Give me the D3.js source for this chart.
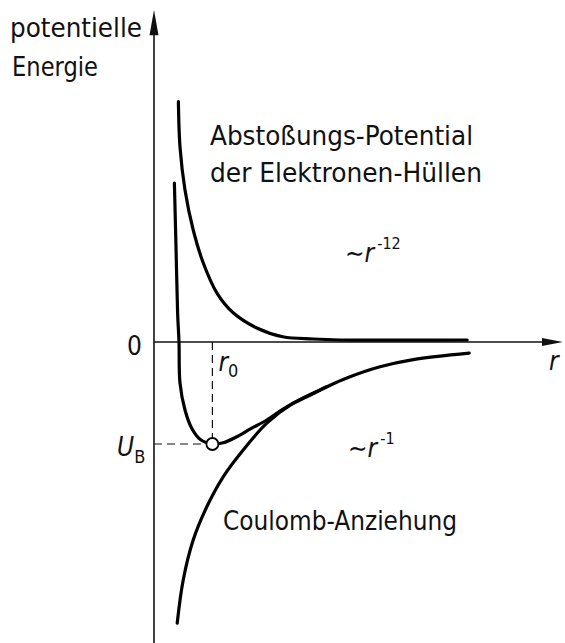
<html>
<head>
<style>
body { margin: 0; background: #fff; }
text { font-family: "Liberation Sans Narrow", "DejaVu Sans Condensed", sans-serif; fill: #111; }
.axis { stroke: #111; stroke-width: 1.6px; fill: none; }
.curve { stroke: #000; stroke-width: 3.2px; fill: none; stroke-linecap: round; }
.guide { stroke: #111; stroke-width: 1.2px; stroke-dasharray: 8 5; fill: none; }
</style>
</head>
<body>
<svg width="565" height="643"></svg>
<script src="https://d3js.org/d3.v7.min.js"></script>
<script>
// distance r (arbitrary units) and potential energy U
const repulsionR = [0.61, 0.65, 0.775, 0.98, 1.23, 1.57, 1.98, 2.57, 3.22, 3.98, 4.65, 6.15, 7.83]
const repulsionU = [6.01, 4.88, 3.8, 2.8, 1.98, 1.23, 0.73, 0.35, 0.13, 0.075, 0.05, 0.045, 0.05]

const coulombR = [0.58, 0.73, 0.98, 1.32, 1.73, 2.23, 2.82, 3.48, 4.32, 4.82, 5.65, 6.48, 7.88]
const coulombU = [-7.03, -5.95, -4.95, -4.12, -3.37, -2.7, -2.03, -1.53, -1.12, -0.9, -0.62, -0.44, -0.28]

const totalR = [0.51, 0.55, 0.59, 0.625, 0.65, 0.775, 0.94, 1.15, 1.46, 1.73, 2.07, 2.4, 2.82, 3.32, 3.82, 4.32]
const totalU = [3.97, 2.38, 0.73, 0, -1.03, -1.7, -2.15, -2.43, -2.55, -2.52, -2.37, -2.18, -1.95, -1.62, -1.37, -1.12]

const r0 = 1.46
const UB = -2.55

const svg = d3.select('svg')
const x = d3.scaleLinear().domain([0, 10.25]).range([154, 564])
const y = d3.scaleLinear().domain([-7.5, 8]).range([642, 22])

const line = d3.line()
    .x(d => x(d[0]))
    .y(d => y(d[1]))
    .curve(d3.curveCatmullRom.alpha(0.5))

// axes with arrow heads
svg.append('line').attr('class', 'axis')
    .attr('x1', x(0)).attr('y1', 643).attr('x2', x(0)).attr('y2', y(7.7))
svg.append('path').attr('fill', '#111')
    .attr('d', `M${x(0)},${y(8.3)} L${x(0) - 4.5},${y(7.67)} L${x(0) + 4.5},${y(7.67)} Z`)
svg.append('line').attr('class', 'axis')
    .attr('x1', x(0)).attr('y1', y(0)).attr('x2', x(9.75)).attr('y2', y(0))
svg.append('path').attr('fill', '#111')
    .attr('d', `M${x(10.22)},${y(0)} L${x(9.7)},${y(0) - 4} L${x(9.7)},${y(0) + 4} Z`)

// dashed guides to the minimum
svg.append('line').attr('class', 'guide')
    .attr('x1', x(r0)).attr('y1', y(0)).attr('x2', x(r0)).attr('y2', y(UB))
svg.append('line').attr('class', 'guide')
    .attr('x1', x(0)).attr('y1', y(UB)).attr('x2', x(r0)).attr('y2', y(UB))

const series = [
    d3.zip(repulsionR, repulsionU),
    d3.zip(coulombR, coulombU),
    d3.zip(totalR, totalU)
]
svg.append('g').selectAll('path')
    .data(series)
    .enter().append('path')
    .attr('class', 'curve')
    .attr('d', line)

svg.append('circle')
    .attr('cx', x(r0)).attr('cy', y(UB)).attr('r', 6)
    .attr('fill', '#fff').attr('stroke', '#000').attr('stroke-width', 1.8)

// labels
function label(txt, px, py, size, len) {
    const t = svg.append('text').attr('x', px).attr('y', py)
        .attr('font-size', size).text(txt)
    if (len) t.attr('textLength', len).attr('lengthAdjust', 'spacingAndGlyphs')
    return t
}
label('potentielle', 10, 37, 27, 132)
label('Energie', 12, 76, 27, 86)
label('Abstoßungs-Potential', 210, 145, 26, 263)
label('der Elektronen-Hüllen', 210, 182, 26, 272)
label('Coulomb-Anziehung', 223, 530, 27, 234)

label('0', x(0) - 12, y(0) + 13, 26).attr('text-anchor', 'end')

const ub = svg.append('text').attr('x', x(0) - 37).attr('y', y(UB) + 12).attr('font-size', 26)
ub.append('tspan').attr('font-style', 'italic').text('U')
ub.append('tspan').attr('font-size', 18).attr('dy', 7).text('B')

const rl = svg.append('text').attr('x', x(r0) + 6).attr('y', y(0) + 29).attr('font-size', 26)
rl.append('tspan').attr('font-style', 'italic').text('r')
rl.append('tspan').attr('font-size', 18).attr('dy', 6).text('0')

label('r', 549, y(0) + 28, 26).attr('font-style', 'italic')

const p12 = svg.append('text').attr('x', 345).attr('y', 262).attr('font-size', 26)
p12.append('tspan').text('∼')
p12.append('tspan').attr('font-style', 'italic').text('r')
p12.append('tspan').attr('font-size', 16).attr('dx', 3).attr('dy', -13).text('-12')

const p1 = svg.append('text').attr('x', 348).attr('y', 457).attr('font-size', 26)
p1.append('tspan').text('∼')
p1.append('tspan').attr('font-style', 'italic').text('r')
p1.append('tspan').attr('font-size', 16).attr('dx', 3).attr('dy', -13).text('-1')
</script>
</body>
</html>
